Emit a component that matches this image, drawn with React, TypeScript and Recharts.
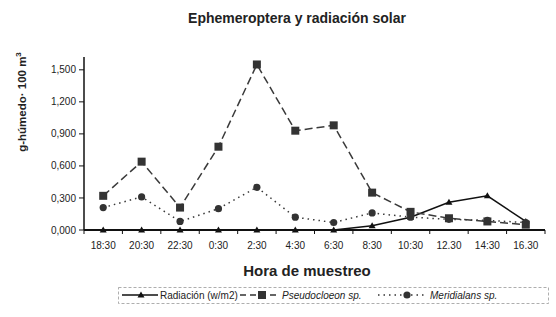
import React from 'react';
import { LineChart, Line, XAxis, YAxis } from 'recharts';

const horas = ['18:30', '20:30', '22:30', '0:30', '2:30', '4:30', '6:30', '8:30', '10:30', '12.30', '14:30', '16.30'];
const radiacion = [0, 0, 0, 0, 0, 0, 0, 0.04, 0.12, 0.26, 0.32, 0.08];
const pseudocloeon = [0.32, 0.64, 0.21, 0.78, 1.55, 0.93, 0.98, 0.35, 0.17, 0.11, 0.08, 0.05];
const meridialans = [0.21, 0.31, 0.08, 0.2, 0.4, 0.12, 0.07, 0.16, 0.12, 0.1, 0.09, 0.07];
const yTicks = [0, 0.3, 0.6, 0.9, 1.2, 1.5];

const data = horas.map((hora, i) => ({
  hora,
  radiacion: radiacion[i],
  pseudocloeon: pseudocloeon[i],
  meridialans: meridialans[i],
}));

const FONT = '"Liberation Sans", Arial, sans-serif';
const BAND = 461 / horas.length;

const formatComa = (v: number) => v.toFixed(3).replace('.', ',');

// x tick: label plus a small mark at the band boundary (Excel style)
const XTick = (props: any) => {
  const { x, y, payload, index } = props;
  const last = index === horas.length - 1;
  return (
    <g>
      <line x1={x - BAND / 2} x2={x - BAND / 2} y1={y - 12} y2={y - 8} stroke="#111" strokeWidth={1} />
      {last && <line x1={x + BAND / 2} x2={x + BAND / 2} y1={y - 12} y2={y - 8} stroke="#111" strokeWidth={1} />}
      <text x={x} y={y} dy="0.71em" textAnchor="middle" fontSize={10} fill="#222" fontFamily={FONT}>
        {payload.value}
      </text>
    </g>
  );
};

const Triangle = (props: any) => {
  const { cx, cy } = props;
  if (cx == null || cy == null) return null;
  return <path d={`M${cx},${cy - 3.5} L${cx + 3.5},${cy + 2.5} L${cx - 3.5},${cy + 2.5} Z`} fill="#111" />;
};

const Square = (props: any) => {
  const { cx, cy } = props;
  if (cx == null || cy == null) return null;
  return <rect x={cx - 4} y={cy - 4} width={8} height={8} fill="#333" />;
};

const Circle = (props: any) => {
  const { cx, cy } = props;
  if (cx == null || cy == null) return null;
  return <circle cx={cx} cy={cy} r={3.6} fill="#333" />;
};

const YLabel = () => (
  <text
    transform="translate(26,102) rotate(-90)"
    textAnchor="middle"
    fontSize={11.5}
    fontWeight="bold"
    fill="#222"
    fontFamily={FONT}
  >
    g-húmedo· 100 m
    <tspan dy={-5} fontSize={8}>3</tspan>
  </text>
);

const Leyenda = () => (
  <svg width={556} height={317} style={{ position: 'absolute', left: 0, top: 0, pointerEvents: 'none' }}>
    <rect x={118.5} y={287.5} width={430} height={16} fill="none" stroke="#999" strokeWidth={0.8} strokeDasharray="3 2" />
    <line x1={122} x2={158} y1={295} y2={295} stroke="#111" strokeWidth={1.3} />
    <Triangle cx={141} cy={295} />
    <text x={160} y={298.5} fontSize={10} fill="#222" fontFamily={FONT}>Radiación (w/m2)</text>
    <line x1={240} x2={278} y1={295} y2={295} stroke="#333" strokeWidth={1.3} strokeDasharray="6 4" />
    <Square cx={262} cy={295} />
    <text x={282} y={298.5} fontSize={10} fontStyle="italic" fill="#222" fontFamily={FONT}>Pseudocloeon sp.</text>
    <line x1={378} x2={426} y1={295} y2={295} stroke="#333" strokeWidth={1.3} strokeDasharray="1.5 4" />
    <Circle cx={407} cy={295} />
    <text x={430} y={298.5} fontSize={10} fontStyle="italic" fill="#222" fontFamily={FONT}>Meridialans sp.</text>
  </svg>
);

export default function App() {
  return (
    <div style={{ position: 'absolute', left: 0, top: 0, width: 556, height: 317, background: '#fff' }}>
      <div
        style={{
          position: 'absolute', left: 0, top: 10, width: 594, textAlign: 'center',
          fontFamily: FONT, fontWeight: 'bold', fontSize: 14, color: '#222',
        }}
      >
        Ephemeroptera y radiación solar
      </div>
      <LineChart width={556} height={317} data={data} margin={{ top: 57, right: 11, bottom: 57, left: 0 }}>
        <XAxis
          dataKey="hora"
          interval={0}
          height={30}
          padding={{ left: BAND / 2, right: BAND / 2 }}
          tick={<XTick />}
          tickSize={4}
          tickMargin={8}
          tickLine={false}
          axisLine={{ stroke: '#111', strokeWidth: 2 }}
        />
        <YAxis
          width={84}
          domain={[0, 1.62]}
          ticks={yTicks}
          tickFormatter={formatComa}
          tickSize={5}
          tickMargin={3}
          tick={{ fontSize: 10, fill: '#222', fontFamily: FONT }}
          tickLine={{ stroke: '#111' }}
          axisLine={{ stroke: '#111', strokeWidth: 1.5 }}
          label={<YLabel />}
        />
        <Line
          dataKey="radiacion"
          stroke="#111"
          strokeWidth={1.5}
          dot={<Triangle />}
          isAnimationActive={false}
        />
        <Line
          dataKey="pseudocloeon"
          stroke="#3a3a3a"
          strokeWidth={1.5}
          strokeDasharray="8 4"
          dot={<Square />}
          isAnimationActive={false}
        />
        <Line
          dataKey="meridialans"
          stroke="#3a3a3a"
          strokeWidth={1.5}
          strokeDasharray="1.5 4"
          dot={<Circle />}
          isAnimationActive={false}
        />
      </LineChart>
      <div
        style={{
          position: 'absolute', left: 0, top: 262, width: 614, textAlign: 'center',
          fontFamily: FONT, fontWeight: 'bold', fontSize: 15, color: '#222',
        }}
      >
        Hora de muestreo
      </div>
      <Leyenda />
    </div>
  );
}
